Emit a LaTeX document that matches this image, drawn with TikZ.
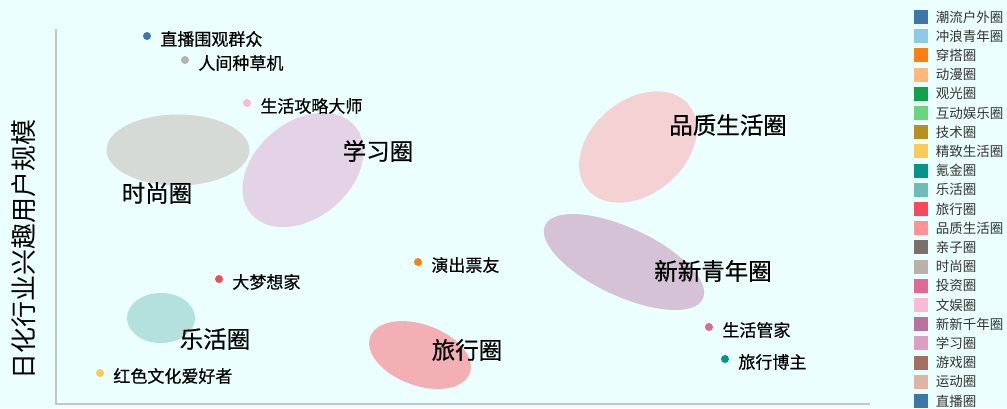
\documentclass[tikz,border=0pt]{standalone}
\usepackage{fontspec}
\setmainfont{Noto Sans CJK SC}
\newfontfamily\medfont[FakeBold=0.5]{Noto Sans CJK SC}
\usetikzlibrary{positioning, shapes.geometric}

\definecolor{bgcol}{HTML}{EAFFFE}
\definecolor{axiscol}{HTML}{C4C6C6}
\definecolor{cShishang}{HTML}{D5DAD7}
\definecolor{cXuexi}{HTML}{E4D3E6}
\definecolor{cLehuo}{HTML}{B4E0DD}
\definecolor{cLvxing}{HTML}{F2B0B5}
\definecolor{cPinzhi}{HTML}{F4D2D3}
\definecolor{cXinxin}{HTML}{D6C2D6}

\definecolor{l01}{HTML}{3B77A8}
\definecolor{l02}{HTML}{8ECAE6}
\definecolor{l03}{HTML}{FC7F0F}
\definecolor{l04}{HTML}{FFB87A}
\definecolor{l05}{HTML}{13A04A}
\definecolor{l06}{HTML}{6BD57D}
\definecolor{l07}{HTML}{B8901F}
\definecolor{l08}{HTML}{FBCB5A}
\definecolor{l09}{HTML}{049489}
\definecolor{l10}{HTML}{6DBDB5}
\definecolor{l11}{HTML}{F94858}
\definecolor{l12}{HTML}{FF9395}
\definecolor{l13}{HTML}{79706E}
\definecolor{l14}{HTML}{BAB0AC}
\definecolor{l15}{HTML}{E36793}
\definecolor{l16}{HTML}{FBB9D4}
\definecolor{l17}{HTML}{B9719F}
\definecolor{l18}{HTML}{DC9DC6}
\definecolor{l19}{HTML}{A0715F}
\definecolor{l20}{HTML}{E0B4A3}
\definecolor{l21}{HTML}{3B77A8}

\begin{document}
\begin{tikzpicture}[
		x=1pt, y=-1pt,
		blob/.style={ellipse, draw=none, inner sep=0pt},
		dot/.style={circle, inner sep=0pt, minimum size=8pt},
		dotlbl/.style={inner sep=0pt, font=\medfont\fontsize{17}{17}\selectfont, yshift=-3pt},
		circlbl/.style={inner sep=0pt, font=\medfont\fontsize{23.5}{24}\selectfont},
		legbox/.style={rectangle, inner sep=0pt, minimum size=14pt},
		legtxt/.style={inner sep=0pt, font=\fontsize{13.5}{14}\selectfont, text=black!80},
		axis/.style={draw=axiscol, line width=2pt}
	]

	\fill[bgcol] (0,0) rectangle (1007,408);
	\useasboundingbox (0,0) rectangle (1007,408);

	% axes
	\coordinate (ytop) at (56,29);
	\coordinate (orig) at (56,404);
	\coordinate (xend) at (870,404);
	\draw[axis] (ytop) -- (orig) -- (xend);
	\node[rotate=90, inner sep=0pt, font=\fontsize{26}{26}\selectfont] (ylab) at (24,249) {日化行业兴趣用户规模};

	% circles
	\node[blob, fill=cShishang, minimum width=143pt, minimum height=71pt] (shishang) at (178,150) {};
	\node[blob, fill=cXuexi, minimum width=136pt, minimum height=96pt, rotate=40] (xuexi) at (303,170) {};
	\node[blob, fill=cLehuo, minimum width=68pt, minimum height=50pt] (lehuo) at (161,318) {};
	\node[blob, fill=cLvxing, minimum width=106pt, minimum height=61pt, rotate=-20] (lvxing) at (420,355) {};
	\node[blob, fill=cPinzhi, minimum width=132pt, minimum height=94pt, rotate=40] (pinzhi) at (638,147) {};
	\node[blob, fill=cXinxin, minimum width=174pt, minimum height=68pt, rotate=-25] (xinxin) at (624,262) {};

	\node[circlbl] (shishangT) at (157,193) {时尚圈};
	\node[circlbl] (xuexiT) at (378,151) {学习圈};
	\node[circlbl] (lehuoT) at (215,339) {乐活圈};
	\node[circlbl] (lvxingT) at (467,350) {旅行圈};
	\node[circlbl] (pinzhiT) at (728,125) {品质生活圈};
	\node[circlbl] (xinxinT) at (713,271) {新新青年圈};

	% single points
	\foreach \n/\x/\y/\c/\t in {
		p1/147/36/l01/直播围观群众,
		p2/185/60/l14/人间种草机,
		p3/247/103/l16/生活攻略大师,
		p4/219/279/l11/大梦想家,
		p5/100/373/l08/红色文化爱好者,
		p6/418/262/l03/演出票友,
		p7/709/327/l15/生活管家,
		p8/725/359/l09/旅行博主}{
		\node[dot, fill=\c] (\n) at (\x,\y) {};
		\node[dotlbl, right=9pt of \n] (\n t) {\t};
	}

	% legend
	\foreach \i/\c/\t in {
		0/l01/潮流户外圈, 1/l02/冲浪青年圈, 2/l03/穿搭圈, 3/l04/动漫圈,
		4/l05/观光圈, 5/l06/互动娱乐圈, 6/l07/技术圈, 7/l08/精致生活圈,
		8/l09/氪金圈, 9/l10/乐活圈, 10/l11/旅行圈, 11/l12/品质生活圈,
		12/l13/亲子圈, 13/l14/时尚圈, 14/l15/投资圈, 15/l16/文娱圈,
		16/l17/新新千年圈, 17/l18/学习圈, 18/l19/游戏圈, 19/l20/运动圈,
		20/l21/直播圈}{
		\node[legbox, fill=\c] (leg\i) at (920.5,17+19.2*\i) {};
		\node[legtxt, right=8pt of leg\i] (leg\i t) {\t};
	}

\end{tikzpicture}
\end{document}
